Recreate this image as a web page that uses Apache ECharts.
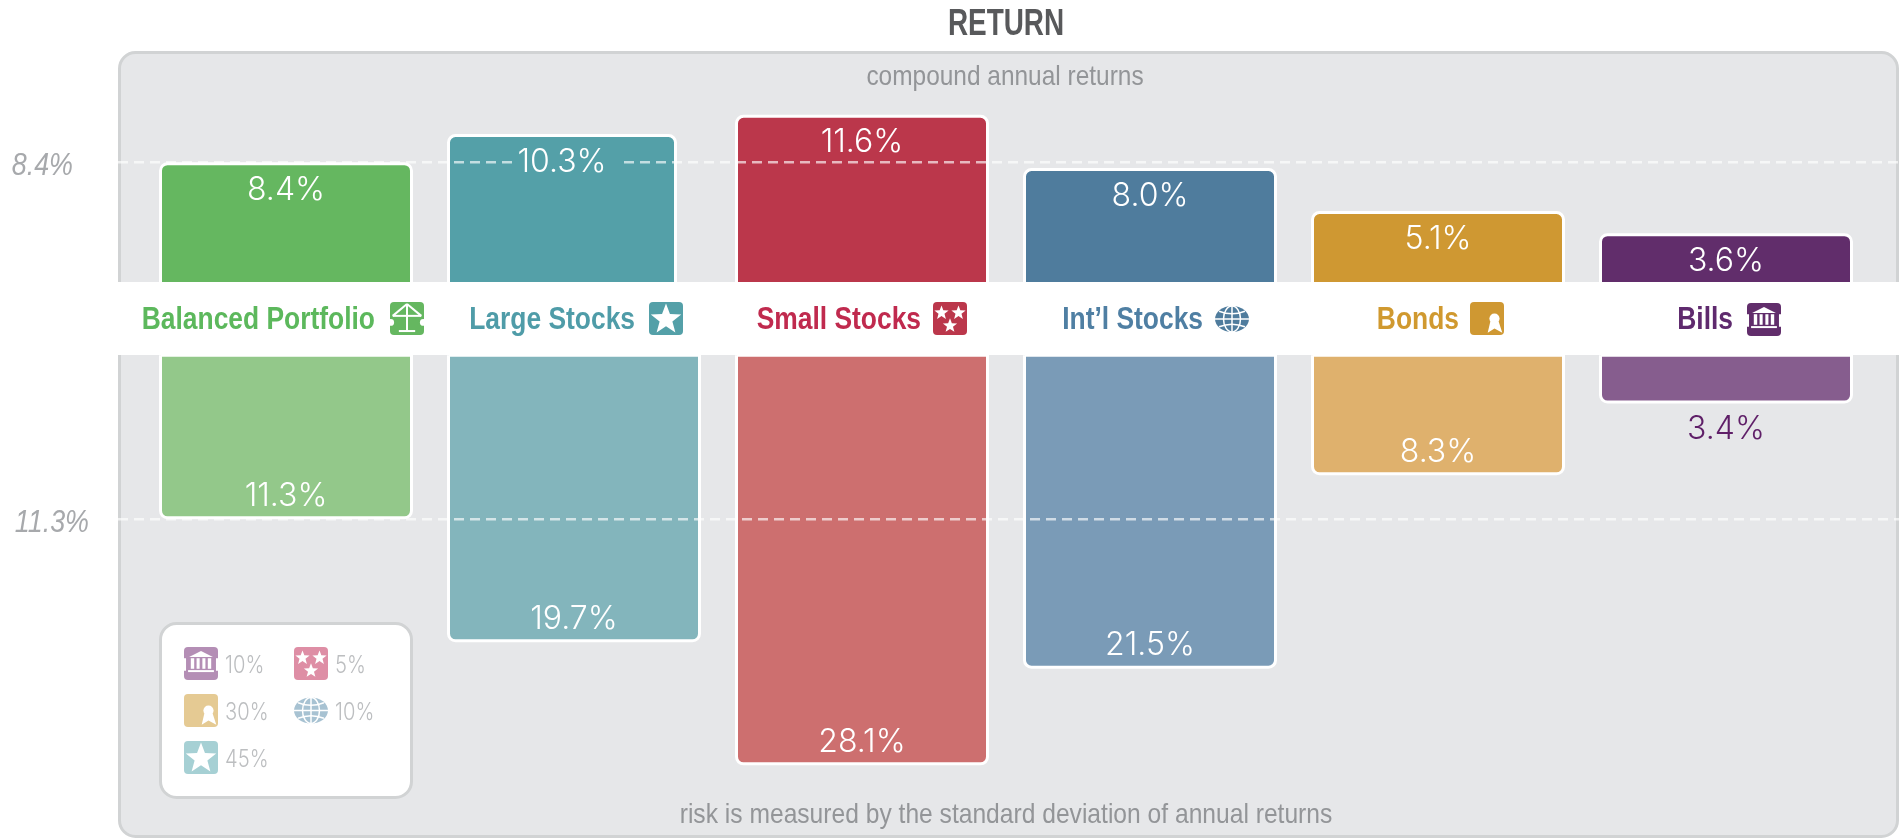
<!DOCTYPE html>
<html>
<head>
<meta charset="utf-8">
<title>Return</title>
<script src="https://cdn.jsdelivr.net/npm/echarts@6/dist/echarts.min.js"></script>
<style>
html, body { margin: 0; padding: 0; background: #fff; }
#chart { width: 1900px; height: 839px; }
</style>
</head>
<body>
<div id="chart"></div>
<script>
var categories = ["Balanced Portfolio", "Large Stocks", "Small Stocks", "Int\u2019l Stocks", "Bonds", "Bills"];
var returns = [8.4, 10.3, 11.6, 8.0, 5.1, 3.6];
var risks = [11.3, 19.7, 28.1, 21.5, 8.3, 3.4];
var returnColors = ["#65b760", "#54a0a8", "#bb374b", "#4f7c9d", "#cf9832", "#612d6b"];
var riskColors = ["#93c88a", "#83b5bc", "#cd6f6f", "#7a9bb7", "#dfb16d", "#865d8e"];
var nameColors = ["#5cb85c", "#4f9ca8", "#c02a4e", "#4f7fa3", "#d0992f", "#5f2a6e"];
var referenceReturn = [8.4];
var referenceRisk = [11.3];
var mixIcons = ["bank", "stars", "ribbon", "globe", "star"];
var mixShares = ["10%", "5%", "30%", "10%", "45%"];
var mixColors = ["#b48eb5", "#de8ea5", "#e5ca93", "#a7c2d2", "#a6d0d4"];
var nameIcons = ["balance", "star", "stars", "globe", "ribbon", "bank"];

var LIGHT = "Inter, 'Liberation Sans', sans-serif";
var SANS = "'Liberation Sans', Arial, sans-serif";

function starPoints(cx, cy, r) {
    var pts = [];
    for (var i = 0; i < 10; i++) {
        var a = -Math.PI / 2 + i * Math.PI / 5, q = i % 2 ? r * 0.42 : r;
        pts.push([cx + q * Math.cos(a), cy + q * Math.sin(a)]);
    }
    return pts;
}

// small pictograms: coloured plate with white glyph on top
function icon(kind, x, y, w, h, color) {
    var c = [];
    var white = { fill: "#fff" };
    var line = { stroke: "#fff", lineWidth: 2, fill: null };
    function rect(a, b, rw, rh) { c.push({ type: "rect", shape: { x: a, y: b, width: rw, height: rh }, style: white }); }
    function seg(a, b, d, e) { c.push({ type: "line", shape: { x1: a, y1: b, x2: d, y2: e }, style: line }); }
    if (kind === "globe") {
        c.push({ type: "ellipse", shape: { cx: w / 2, cy: h / 2, rx: w / 2, ry: h / 2 }, style: { fill: color } });
        var thin = { stroke: "#fff", lineWidth: 1.5, fill: null };
        c.push({ type: "ellipse", shape: { cx: w / 2, cy: h / 2, rx: w * 0.25, ry: h / 2 }, style: thin });
        c.push({ type: "line", shape: { x1: w / 2, y1: 0, x2: w / 2, y2: h }, style: thin });
        c.push({ type: "line", shape: { x1: 0, y1: h / 2, x2: w, y2: h / 2 }, style: thin });
        c.push({ type: "bezierCurve", shape: { x1: w * 0.12, y1: h * 0.2, cpx1: w / 2, cpy1: h * 0.4, x2: w * 0.88, y2: h * 0.2 }, style: thin });
        c.push({ type: "bezierCurve", shape: { x1: w * 0.12, y1: h * 0.8, cpx1: w / 2, cpy1: h * 0.6, x2: w * 0.88, y2: h * 0.8 }, style: thin });
    } else {
        c.push({ type: "rect", shape: { x: 0, y: 0, width: w, height: h, r: 4 }, style: { fill: color } });
    }
    if (kind === "star") {
        c.push({ type: "polygon", shape: { points: starPoints(w / 2, h * 0.53, w * 0.47) }, style: white });
    } else if (kind === "stars") {
        c.push({ type: "polygon", shape: { points: starPoints(w * 0.25, h * 0.33, w * 0.22) }, style: white });
        c.push({ type: "polygon", shape: { points: starPoints(w * 0.75, h * 0.33, w * 0.22) }, style: white });
        c.push({ type: "polygon", shape: { points: starPoints(w * 0.5, h * 0.72, w * 0.22) }, style: white });
    } else if (kind === "ribbon") {
        c.push({ type: "circle", shape: { cx: w * 0.72, cy: h * 0.5, r: w * 0.15 }, style: white });
        c.push({ type: "polygon", shape: { points: [[w * 0.6, h * 0.58], [w * 0.84, h * 0.58], [w * 0.95, h * 0.93], [w * 0.72, h * 0.8], [w * 0.52, h * 0.93]] }, style: white });
    } else if (kind === "bank") {
        c.push({ type: "polygon", shape: { points: [[w * 0.5, h * 0.12], [w * 0.85, h * 0.3], [w * 0.15, h * 0.3]] }, style: white });
        rect(w * 0.2, h * 0.34, w * 0.1, h * 0.32);
        rect(w * 0.37, h * 0.34, w * 0.09, h * 0.32);
        rect(w * 0.54, h * 0.34, w * 0.09, h * 0.32);
        rect(w * 0.7, h * 0.34, w * 0.1, h * 0.32);
        rect(w * 0.12, h * 0.7, w * 0.76, h * 0.06);
        rect(0, h * 0.34, w * 0.06, h * 0.38);
        rect(w * 0.94, h * 0.34, w * 0.06, h * 0.38);
    } else if (kind === "balance") {
        seg(w * 0.08, h * 0.42, w * 0.5, h * 0.06);
        seg(w * 0.5, h * 0.06, w * 0.92, h * 0.42);
        seg(w * 0.08, h * 0.42, w * 0.92, h * 0.42);
        seg(w * 0.5, h * 0.06, w * 0.5, h * 0.86);
        seg(w * 0.26, h * 0.88, w * 0.74, h * 0.88);
        c.push({ type: "circle", shape: { cx: w * 0.02, cy: h * 0.62, r: w * 0.1 }, style: white });
        c.push({ type: "circle", shape: { cx: w * 0.98, cy: h * 0.62, r: w * 0.1 }, style: white });
    }
    // group z does not reach the children
    c.forEach(function (el, i) { el.z = 30; el.z2 = i; });
    return { type: "group", x: x, y: y, children: c };
}

// fonts here have no condensed cut, so text is squeezed horizontally
function text(str, x, y, font, fill, squeeze, align) {
    return { type: "text", z: 30, x: x, y: y, scaleX: squeeze, style: { x: 0, y: 0, text: str, font: font, fill: fill, align: align, verticalAlign: "middle" } };
}

var iconBoxes = [[390, 302, 34, 33], [649, 302, 34, 33], [933, 302, 34, 33], [1215, 306, 34, 26], [1470, 302, 34, 33], [1747, 303, 34, 33]];
var nameRight = [375, 635, 921, 1203, 1459, 1733];

var graphics = [
    { type: "rect", z: 0, shape: { x: 119.5, y: 52.5, width: 1778, height: 784, r: 16 }, style: { fill: "#e6e7e9", stroke: "#d1d3d4", lineWidth: 3 } },
    { type: "rect", z: 20, shape: { x: 118, y: 282, width: 1782, height: 73 }, style: { fill: "#fff" } },
    { type: "rect", z: 20, shape: { x: 160.5, y: 623.5, width: 251, height: 174, r: 16 }, style: { fill: "#fff", stroke: "#d1d3d4", lineWidth: 3 } },
    text("RETURN", 1006, 25, "bold 36px " + SANS, "#58595b", 0.775, "center"),
    text("compound annual returns", 1005, 77, "28px " + SANS, "#939598", 0.873, "center"),
    text("risk is measured by the standard deviation of annual returns", 1006, 815, "28px " + SANS, "#939598", 0.879, "center")
];
categories.forEach(function (name, i) {
    graphics.push(text(name, nameRight[i], 320, "bold 32px " + SANS, nameColors[i], 0.825, "right"));
    var b = iconBoxes[i];
    graphics.push(icon(nameIcons[i], b[0], b[1], b[2], b[3], returnColors[i]));
});
var mixBoxes = [[184, 647], [294, 647], [184, 694], [294, 694], [184, 741]];
mixIcons.forEach(function (kind, i) {
    var p = mixBoxes[i];
    var h = kind === "globe" ? 26 : 33;
    graphics.push(icon(kind, p[0], p[1] + (33 - h) / 2, 34, h, mixColors[i]));
    graphics.push(text(mixShares[i], p[0] + 41, p[1] + 19, "300 24px " + LIGHT, "#bcbec0", 0.84, "left"));
});

function coloured(values, colors, radius) {
    return values.map(function (v, i) {
        return { value: v, itemStyle: { color: colors[i], borderColor: "#fff", borderWidth: 3, borderRadius: radius } };
    });
}
var upper = coloured(returns, returnColors, [7, 7, 0, 0]);
var lower = coloured(risks, riskColors, [0, 0, 7, 7]);
var upperNarrow = categories.map(function () { return null; });
upperNarrow[1] = upper[1];
upper[1] = null;

var percent = function (p) { return p.value.toFixed(1) + "%"; };
var valueLabel = { show: true, position: "insideTop", distance: 12, color: "#fff", fontFamily: LIGHT, fontWeight: 300, fontSize: 32, formatter: percent };
var valueLabelDown = { show: true, position: "insideBottom", distance: 7, color: "#fff", fontFamily: LIGHT, fontWeight: 300, fontSize: 32, formatter: percent };
lower[5].label = { position: "bottom", distance: 10, color: "#5f1f68" };

var ZERO_UP = 286.5, ZERO_DOWN = 353.7, SCALE_UP = 14.8, SCALE_DOWN = 14.65;

var chart = echarts.init(document.getElementById("chart"));
var option = {
    animation: false,
    backgroundColor: "#fff",
    grid: [
        { left: 142, width: 1728, top: ZERO_UP - 14 * SCALE_UP, height: 14 * SCALE_UP },
        { left: 142, width: 1728, top: ZERO_DOWN, height: 30 * SCALE_DOWN }
    ],
    xAxis: [
        { gridIndex: 0, type: "category", data: categories, show: false },
        { gridIndex: 1, type: "category", data: categories, show: false }
    ],
    yAxis: [
        { gridIndex: 0, type: "value", min: 0, max: 14, show: false },
        { gridIndex: 1, type: "value", inverse: true, min: 0, max: 30, show: false }
    ],
    series: [
        { name: "Return, narrow", type: "bar", xAxisIndex: 0, yAxisIndex: 0, data: upperNarrow, barWidth: 230, barGap: "-100%", z: 5, label: valueLabel },
        { name: "Return", type: "bar", xAxisIndex: 0, yAxisIndex: 0, data: upper, barWidth: 254, barGap: "-100%", z: 5, label: valueLabel },
        { name: "Risk", type: "bar", xAxisIndex: 1, yAxisIndex: 1, data: lower, barWidth: 254, z: 5, label: valueLabelDown }
    ],
    graphic: graphics
};
chart.setOption(option);

// reference lines run the full width of the panel, wider than the grids
var y0 = chart.convertToPixel({ yAxisIndex: 0 }, referenceReturn[0]);
var y1 = chart.convertToPixel({ yAxisIndex: 1 }, referenceRisk[0]);
var dash = { stroke: "#fff", lineWidth: 2.4, lineDash: [10, 6], opacity: 0.65 };
function dashed(a, b, y) { graphics.push({ type: "line", z: 10, shape: { x1: a, y1: y, x2: b, y2: y }, style: dash }); }
dashed(118, 516, y0);
dashed(624, 1900, y0);
dashed(118, 1900, y1);
graphics.push(text(referenceReturn[0] + "%", 73, y0 + 4, "italic 32px " + SANS, "#a7a9ac", 0.84, "right"));
graphics.push(text(referenceRisk[0] + "%", 89, y1 + 3.5, "italic 32px " + SANS, "#a7a9ac", 0.84, "right"));
chart.setOption({ graphic: graphics });
</script>
</body>
</html>
